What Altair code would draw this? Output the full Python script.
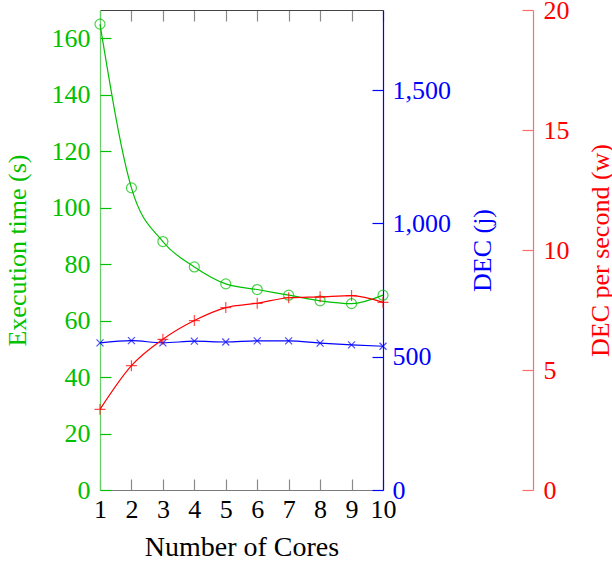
import altair as alt
import pandas as pd

# Measurements per number of cores
cores = [1, 2, 3, 4, 5, 6, 7, 8, 9, 10]
exec_time = [165, 107, 88, 79, 73, 71, 69, 67, 66, 69]          # seconds
dec_joules = [552, 560, 552, 558, 555, 559, 559, 551, 544, 539]  # DEC (j)
dec_watts = [3.36, 5.18, 6.28, 7.06, 7.6, 7.78, 8.01, 8.05, 8.1, 7.82]  # DEC per second (w)

x_ticks = cores
time_ticks = [0, 20, 40, 60, 80, 100, 120, 140, 160]
dec_ticks = [0, 500, 1000, 1500]
watt_ticks = [0, 5, 10, 15, 20]

df = pd.DataFrame({"cores": cores, "time": exec_time, "dec": dec_joules, "watts": dec_watts})

W, H = 283, 480
RED_OFFSET = 150
FONT = "Liberation Serif"
FS = 26

GREEN = "#00c000"
GREEN_AXIS = "#66d066"
BLUE = "#0000ff"
RED = "#ff0000"
RED_AXIS = "#ff6f6f"
TICK = 11

xs = alt.Scale(domain=[1, 10], nice=False)
ys_time = alt.Scale(domain=[0, 170], nice=False)
ys_dec = alt.Scale(domain=[0, 1800], nice=False)
ys_w = alt.Scale(domain=[0, 20], nice=False)

base = alt.Chart(df)

# Green series: execution time, labelled on the left axis
green_line = base.mark_line(color=GREEN, strokeWidth=1.2, interpolate="monotone").encode(
    x=alt.X("cores:Q", scale=xs, axis=alt.Axis(
        orient="bottom", values=x_ticks, ticks=False, tickSize=0, labelPadding=6,
        labelFont=FONT, labelFontSize=FS, labelColor="black", labelFlush=False,
        labelOverlap=False, domainColor="#7a7a7a", domainWidth=1.2, grid=False,
        title="Number of Cores", titleFont=FONT, titleFontSize=28, titleFontWeight="normal",
        titleColor="black", titleX=W / 2, titleY=65, titleAlign="center",
        titleBaseline="alphabetic")),
    y=alt.Y("time:Q", scale=ys_time, axis=alt.Axis(
        orient="left", values=time_ticks, ticks=False, tickSize=0, labelPadding=10,
        labelFont=FONT, labelFontSize=FS, labelColor=GREEN, labelOverlap=False,
        domainColor=GREEN_AXIS, domainWidth=1.2, grid=False,
        title="Execution time (s)", titleFont=FONT, titleFontSize=FS,
        titleFontWeight="normal", titleColor=GREEN, titleAngle=-90, titleX=-83,
        titleY=H / 2, titleAlign="center", titleBaseline="middle")),
)

green_pts = base.mark_point(shape="circle", size=100, color=GREEN, filled=False, strokeWidth=1.2).encode(
    # inward ticks along the bottom edge
    x=alt.X("cores:Q", scale=xs, axis=alt.Axis(
        orient="top", offset=-H, values=x_ticks, ticks=True, tickSize=TICK,
        tickColor="#8a8a8a", tickWidth=1.2, labels=False, domain=False, grid=False, title=None)),
    # inward ticks along the left edge
    y=alt.Y("time:Q", scale=ys_time, axis=alt.Axis(
        orient="right", offset=-W, values=time_ticks, ticks=True, tickSize=TICK,
        tickColor=GREEN, tickWidth=1.2, labels=False, domain=False, grid=False, title=None)),
)

# Blue series: DEC in joules on the right axis
blue_line = base.mark_line(color=BLUE, strokeWidth=1.2, interpolate="monotone").encode(
    # top frame with inward ticks
    x=alt.X("cores:Q", scale=xs, axis=alt.Axis(
        orient="bottom", offset=-H, values=x_ticks, ticks=True, tickSize=TICK,
        tickColor="#8a8a8a", tickWidth=1.2, labels=False, domainColor="#444444",
        domainWidth=1.2, grid=False, title=None)),
    y=alt.Y("dec:Q", scale=ys_dec, axis=alt.Axis(
        orient="right", values=dec_ticks, format=",d", ticks=False, tickSize=0,
        labelPadding=9, labelFont=FONT, labelFontSize=FS, labelColor=BLUE,
        labelOverlap=False, domainColor=BLUE, domainWidth=1.2, grid=False,
        title="DEC (j)", titleFont=FONT, titleFontSize=FS, titleFontWeight="normal",
        titleColor=BLUE, titleAngle=-90, titleX=99, titleY=H / 2, titleAlign="center",
        titleBaseline="middle")),
)

blue_pts = base.mark_point(shape="M-1,-1L1,1M-1,1L1,-1", size=49, color=BLUE,
                           filled=False, strokeWidth=1.2).encode(
    x=alt.X("cores:Q", scale=xs, axis=None),
    y=alt.Y("dec:Q", scale=ys_dec, axis=alt.Axis(
        orient="left", offset=-W, values=dec_ticks, ticks=True, tickSize=TICK,
        tickColor=BLUE, tickWidth=1.2, labels=False, domain=False, grid=False, title=None)),
)

# Red series: DEC per second on an offset axis
red_line = base.mark_line(color=RED, strokeWidth=1.2, interpolate="monotone").encode(
    x=alt.X("cores:Q", scale=xs, axis=None),
    y=alt.Y("watts:Q", scale=ys_w, axis=alt.Axis(
        orient="right", offset=RED_OFFSET, values=watt_ticks, ticks=False, tickSize=0,
        labelPadding=10, labelFont=FONT, labelFontSize=FS, labelColor=RED,
        labelOverlap=False, domainColor=RED_AXIS, domainWidth=1.2, grid=False,
        title="DEC per second (w)", titleFont=FONT, titleFontSize=FS,
        titleFontWeight="normal", titleColor=RED, titleAngle=-90, titleX=67,
        titleY=H / 2, titleAlign="center", titleBaseline="middle")),
)

red_pts = base.mark_point(shape="M-1,0L1,0M0,-1L0,1", size=120, color=RED,
                          filled=False, strokeWidth=1.2).encode(
    x=alt.X("cores:Q", scale=xs, axis=None),
    y=alt.Y("watts:Q", scale=ys_w, axis=alt.Axis(
        orient="left", offset=-(W + RED_OFFSET), values=watt_ticks, ticks=True,
        tickSize=TICK, tickColor=RED_AXIS, tickWidth=1.2, labels=False, domain=False,
        grid=False, title=None)),
)

chart = alt.layer(
    green_line, green_pts, blue_line, blue_pts, red_line, red_pts
).resolve_scale(x="independent", y="independent").resolve_axis(
    x="independent", y="independent"
).properties(
    width=W, height=H,
    autosize=alt.AutoSizeParams(type="none"),
    padding={"left": 100, "top": 10, "right": 612 - 100 - W, "bottom": 563 - 10 - H},
).configure_view(stroke=None)

chart.save("out.html", embed_options={"renderer": "svg", "actions": False})
